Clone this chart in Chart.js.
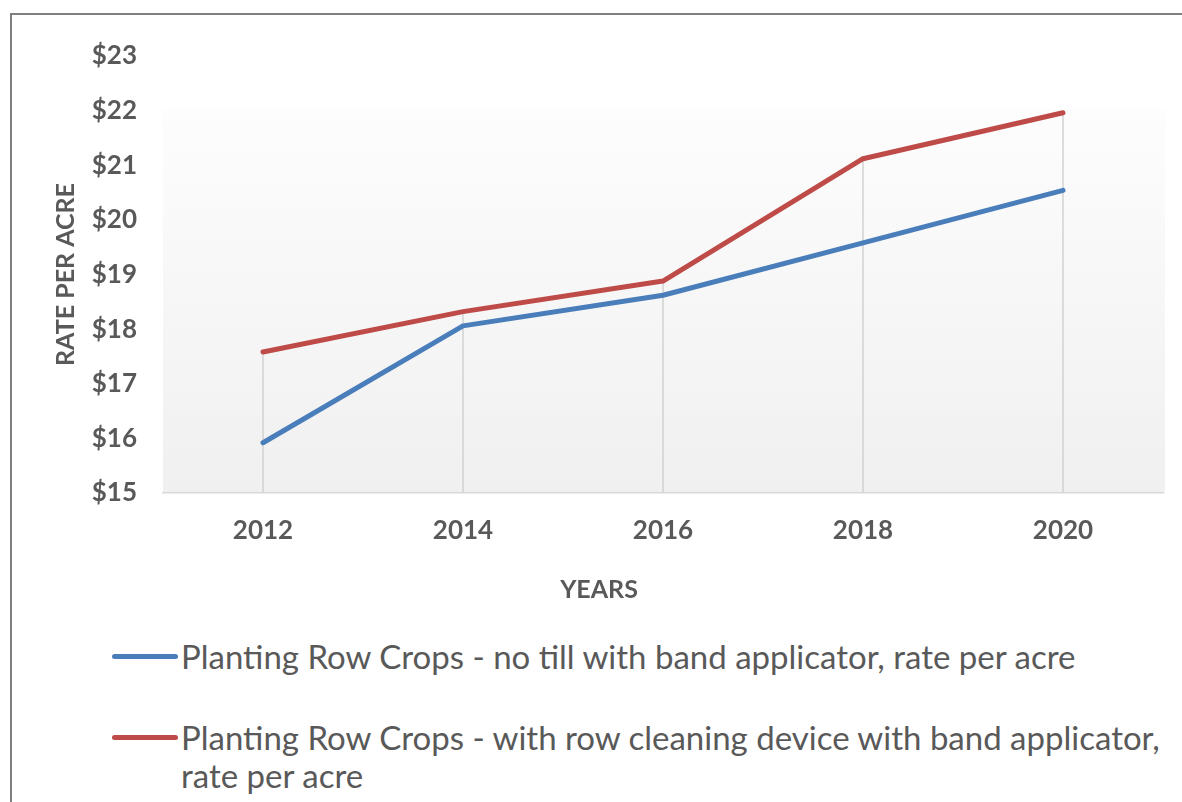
<!DOCTYPE html>
<html lang="en">

<head>
    <meta charset="UTF-8">
    <title>Rate per acre</title>
    <script src="https://cdn.jsdelivr.net/npm/chart.js"></script>
    <style>
        body { margin: 0; background: #fff; font-family: Lato, sans-serif; overflow: hidden; }
        #frame { position: absolute; left: 10px; top: 13px; width: 1300px; height: 900px;
                 border-left: 2px solid #7f7f7f; border-top: 2px solid #7f7f7f; }
        #myChart { position: absolute; left: 0; top: 0; }
        #xTitle { position: absolute; left: 499px; width: 200px; top: 573px; text-align: center;
                  color: #595959; font-weight: bold; font-size: 25px; line-height: 30px; }
        #legend { position: absolute; left: 112px; top: 637px; width: 1070px; color: #595959;
                  font-size: 33px; line-height: 38px; }
        .item { display: flex; align-items: flex-start; margin-bottom: 43px; }
        .swatch { flex: none; width: 66px; height: 5px; border-radius: 3px; margin-top: 17px; margin-right: 3px; }
        .txt { width: 995px; }
    </style>
</head>

<body>
    <div id="frame"></div>
    <canvas id="myChart" width="1182" height="610"></canvas>
    <div id="xTitle">YEARS</div>
    <div id="legend"></div>

    <script>
        const years = ['2012', '2014', '2016', '2018', '2020'];
        const noTill = [15.92, 18.06, 18.62, 19.58, 20.54];
        const rowCleaning = [17.58, 18.32, 18.88, 21.12, 21.96];
        const seriesNames = [
            'Planting Row Crops - no till with band applicator, rate per acre',
            'Planting Row Crops - with row cleaning device with band applicator, rate per acre'
        ];
        const seriesColors = ['#4a7ebb', '#be4b48'];
        const yMin = 15, yMax = 23;

        const textColor = '#595959';

        // plot background (gradient box)
        const bgPlugin = {
            id: 'bg',
            beforeDraw(chart) {
                const { ctx, chartArea } = chart;
                const top = chartArea.top + 53;
                const g = ctx.createLinearGradient(0, top, 0, chartArea.bottom);
                g.addColorStop(0, '#fdfdfd');
                g.addColorStop(1, '#f0f0f0');
                ctx.save();
                ctx.fillStyle = g;
                ctx.fillRect(chartArea.left, top, chartArea.right - chartArea.left + 2, chartArea.bottom - top);
                ctx.restore();
            }
        };

        // drop lines from the highest point down to the axis
        const dropLines = {
            id: 'dropLines',
            beforeDatasetsDraw(chart) {
                const { ctx, scales } = chart;
                ctx.save();
                ctx.strokeStyle = '#d2d2d2';
                ctx.lineWidth = 1.5;
                years.forEach((y, i) => {
                    const top = Math.max(noTill[i], rowCleaning[i]);
                    const x = scales.x.getPixelForValue(i);
                    ctx.beginPath();
                    ctx.moveTo(x, scales.y.getPixelForValue(top));
                    ctx.lineTo(x, scales.y.getPixelForValue(yMin));
                    ctx.stroke();
                });
                ctx.restore();
            }
        };

        const ctx = document.getElementById('myChart');

        new Chart(ctx, {
            type: 'line',
            data: {
                labels: years,
                datasets: [
                    { label: seriesNames[0], data: noTill, borderColor: seriesColors[0], backgroundColor: seriesColors[0] },
                    { label: seriesNames[1], data: rowCleaning, borderColor: seriesColors[1], backgroundColor: seriesColors[1] }
                ]
            },
            options: {
                responsive: false,
                animation: false,
                devicePixelRatio: 1,
                layout: { padding: { top: 56, right: 19, left: 0, bottom: 0 } },
                elements: {
                    line: { borderWidth: 5, tension: 0, borderCapStyle: 'round', borderJoinStyle: 'round' },
                    point: { radius: 0 }
                },
                plugins: {
                    legend: { display: false },
                    tooltip: { enabled: false }
                },
                scales: {
                    x: {
                        offset: true,
                        afterFit: (s) => { s.height = 117; },
                        grid: { display: false },
                        border: { display: true, color: '#d9d9d9', width: 1.5 },
                        ticks: { color: textColor, padding: 14, font: { family: 'Lato', size: 26, weight: 'bold' } }
                    },
                    y: {
                        min: yMin,
                        max: yMax,
                        afterFit: (s) => { s.width = 163; },
                        grid: { display: false },
                        border: { display: false },
                        ticks: {
                            stepSize: 1, color: textColor, padding: 18,
                            font: { family: 'Lato', size: 26, weight: 'bold' },
                            callback: (v) => '$' + v
                        },
                        title: {
                            display: true, text: 'RATE PER ACRE', color: textColor,
                            font: { family: 'Lato', size: 25, weight: 'bold' },
                            padding: { top: 51, bottom: 0 }
                        }
                    }
                }
            },
            plugins: [bgPlugin, dropLines]
        });

        // legend below the chart
        const legend = document.getElementById('legend');
        seriesNames.forEach((name, i) => {
            const item = document.createElement('div');
            item.className = 'item';
            item.innerHTML = '<span class="swatch" style="background:' + seriesColors[i] + '"></span><span class="txt"></span>';
            item.querySelector('.txt').textContent = name;
            legend.appendChild(item);
        });
    </script>
</body>

</html>
